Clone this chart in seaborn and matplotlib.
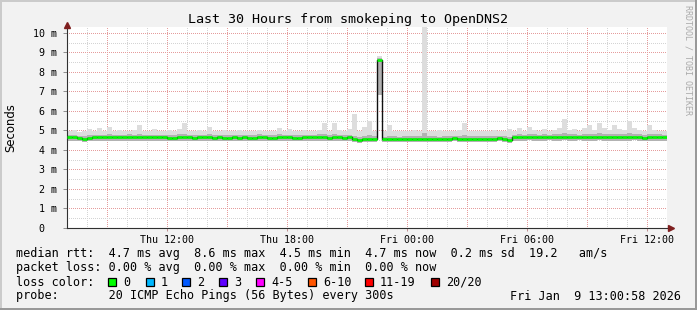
import numpy as np
import pandas as pd
import matplotlib
matplotlib.use("Agg")
import matplotlib.pyplot as plt
from matplotlib.patches import Rectangle
import seaborn as sns

# ---------------- data (15-minute samples, hours since Thu 07:00) ----------------
med = [4.66,4.65,4.63,4.55,4.62,4.66,4.65,4.64,4.66,4.67,
       4.66,4.65,4.67,4.66,4.64,4.66,4.65,4.64,4.66,4.67,
       4.63,4.62,4.64,4.66,4.65,4.63,4.64,4.66,4.65,4.63,
       4.64,4.63,4.62,4.65,4.63,4.64,4.62,4.63,4.65,4.64,
       4.63,4.62,4.64,4.66,4.64,4.62,4.63,4.65,4.64,4.66,
       4.65,4.64,4.63,4.64,4.65,4.63,4.64,4.55,4.53,4.54,
       4.54,4.55,8.60,4.56,4.55,4.57,4.56,4.55,4.57,4.58,
       4.57,4.56,4.58,4.57,4.55,4.57,4.58,4.60,4.57,4.56,
       4.58,4.57,4.56,4.58,4.55,4.57,4.59,4.58,4.52,4.66,
       4.67,4.66,4.68,4.67,4.66,4.67,4.68,4.67,4.66,4.68,
       4.67,4.66,4.68,4.67,4.66,4.67,4.68,4.66,4.67,4.65,
       4.66,4.67,4.66,4.68,4.65,4.63,4.66,4.67,4.66,4.65]

top = [4.95,5.00,4.92,4.98,5.05,4.95,5.10,4.97,5.20,4.96,
       5.00,4.95,4.98,5.02,5.30,4.97,4.95,5.05,4.98,4.96,
       5.00,4.97,5.05,5.40,4.98,4.95,5.00,4.97,5.20,4.96,
       4.98,5.02,4.95,4.97,5.00,4.96,4.95,4.98,5.00,4.97,
       4.95,4.98,5.10,4.96,5.05,4.97,4.95,5.00,4.96,4.98,
       5.00,5.40,4.97,5.40,5.00,4.96,5.05,5.85,4.95,5.20,
       5.50,4.97,8.80,4.95,5.30,4.96,4.95,4.98,4.97,5.00,
       4.95,10.6,4.97,4.95,5.00,4.96,4.98,4.95,5.00,5.40,
       4.97,4.96,4.98,4.95,4.97,5.00,4.98,4.96,5.05,4.97,
       5.10,4.98,5.20,5.00,4.97,5.05,4.98,5.00,5.10,5.60,
       5.00,5.05,4.98,5.10,5.30,5.00,5.40,5.10,5.00,5.30,
       5.05,5.00,5.50,5.10,5.00,4.98,5.30,5.00,4.97,4.95]

dark_hi = [4.76,4.78,4.73,4.70,4.75,4.79,4.77,4.78,4.82,4.76,
           4.78,4.75,4.80,4.77,4.81,4.76,4.78,4.79,4.77,4.75,
           4.78,4.76,4.80,4.83,4.77,4.75,4.78,4.77,4.80,4.76,
           4.77,4.79,4.75,4.78,4.76,4.77,4.75,4.78,4.80,4.76,
           4.75,4.77,4.81,4.76,4.78,4.75,4.77,4.79,4.76,4.78,
           4.80,4.83,4.77,4.82,4.78,4.76,4.78,4.72,4.68,4.71,
           4.75,4.70,8.70,4.68,4.73,4.70,4.68,4.71,4.69,4.72,
           4.70,4.88,4.71,4.69,4.68,4.70,4.72,4.71,4.70,4.77,
           4.71,4.70,4.72,4.69,4.71,4.73,4.72,4.70,4.68,4.78,
           4.80,4.78,4.82,4.80,4.78,4.81,4.79,4.80,4.82,4.86,
           4.80,4.82,4.79,4.83,4.84,4.81,4.85,4.82,4.80,4.84,
           4.82,4.80,4.86,4.83,4.81,4.78,4.84,4.82,4.80,4.78]

low = [4.47,4.46,4.45,4.42,4.45,4.47,4.46,4.45,4.47,4.48,
       4.47,4.46,4.48,4.47,4.45,4.47,4.46,4.45,4.47,4.48,
       4.45,4.44,4.46,4.47,4.46,4.45,4.46,4.47,4.46,4.45,
       4.46,4.45,4.44,4.46,4.45,4.46,4.44,4.45,4.47,4.46,
       4.45,4.44,4.46,4.47,4.46,4.44,4.45,4.47,4.46,4.47,
       4.47,4.46,4.45,4.46,4.47,4.45,4.46,4.40,4.38,4.39,
       4.39,4.40,6.80,4.41,4.40,4.42,4.41,4.40,4.42,4.43,
       4.42,4.41,4.43,4.42,4.40,4.42,4.43,4.44,4.42,4.41,
       4.43,4.42,4.41,4.43,4.40,4.42,4.44,4.43,4.38,4.47,
       4.48,4.47,4.49,4.48,4.47,4.48,4.49,4.48,4.47,4.49,
       4.48,4.47,4.49,4.48,4.47,4.48,4.49,4.47,4.48,4.46,
       4.47,4.48,4.47,4.49,4.46,4.44,4.47,4.48,4.47,4.46]

step_hours = 0.25
xtick_hours = [5, 11, 17, 23, 29]
xtick_labels = ["Thu 12:00", "Thu 18:00", "Fri 00:00", "Fri 06:00", "Fri 12:00"]
ytick_values = [0, 1, 2, 3, 4, 5, 6, 7, 8, 9, 10]
ytick_labels = ["0  ", "1 m", "2 m", "3 m", "4 m", "5 m", "6 m", "7 m", "8 m", "9 m", "10 m"]

title = "Last 30 Hours from smokeping to OpenDNS2"
legend_rows = [
    "median rtt:  4.7 ms avg  8.6 ms max  4.5 ms min  4.7 ms now  0.2 ms sd  19.2   am/s",
    "packet loss: 0.00 % avg  0.00 % max  0.00 % min  0.00 % now",
    "loss color:",
    "probe:       20 ICMP Echo Pings (56 Bytes) every 300s",
]
loss_labels = ["0", "1", "2", "3", "4-5", "6-10", "11-19", "20/20"]
loss_colors = ["#00FF00", "#00B8FF", "#0059FF", "#5E00FF", "#FF00FF", "#FF5500", "#FF0000", "#A00000"]
timestamp = "Fri Jan  9 13:00:58 2026"

# ---------------- figure ----------------
plt.rcParams["font.family"] = ["DejaVu Sans Mono"]
W, H = 697, 310
fig = plt.figure(figsize=(W / 100, H / 100), dpi=100, facecolor="#F2F2F2")

def fx(x):
    return x / W

def fy(y):
    return 1 - y / H

ax = fig.add_axes([fx(67), 82 / H, 600 / W, 201 / H])
ax.set_facecolor("white")

n = len(med)
edges = np.arange(n + 1) * step_hours
df = pd.DataFrame({
    "t": edges,
    "med": med + [med[-1]],
    "top": top + [top[-1]],
    "dark_hi": dark_hi + [dark_hi[-1]],
    "low": low + [low[-1]],
})

# dotted grid
px = 0.72
dot = (0, (1, 1.2))
for h in np.arange(0, 31, 1):
    major = (h % 3 == 2)
    ax.axvline(h, color="#E59C9C" if major else "#D4D4D4", lw=px, ls=dot,
               zorder=0.5, antialiased=False)
for v in np.arange(0.5, 10.31, 0.5):
    major = abs(v - round(v)) < 1e-6
    ax.axhline(v, color="#E59C9C" if major else "#D4D4D4", lw=px, ls=dot,
               zorder=0.5, antialiased=False)

# smoke
ax.fill_between(df["t"], df["low"], df["top"], step="post", color="#DDDDDD", lw=0, zorder=1)
ax.fill_between(df["t"], df["low"], df["dark_hi"], step="post", color="#B2B2B2", lw=0, zorder=1.1)

# median line (dark vertical transitions, green horizontal segments)
sns.lineplot(data=df, x="t", y="med", ax=ax, drawstyle="steps-post", color="#101010",
             lw=1.0, estimator=None, sort=False, zorder=2)
ax.hlines(med, edges[:-1], edges[1:], colors="#00FF00", lw=1.9, zorder=3)

ax.set_xlim(0, 30)
ax.set_ylim(0, 10.3)
ax.set_xlabel("")
ax.set_ylabel("")

ax.set_xticks(xtick_hours)
ax.set_xticklabels(xtick_labels, fontsize=7.2)
ax.set_yticks(ytick_values)
ax.set_yticklabels(ytick_labels, fontsize=7.2)
ax.tick_params(axis="x", length=2, width=0.72, color="#C08E8E", pad=3)
ax.tick_params(axis="y", length=3, width=0.72, color="#909090", pad=4)
for lab in ax.get_yticklabels():
    lab.set_horizontalalignment("right")

for s in ["top", "right"]:
    ax.spines[s].set_visible(False)
for s in ["left", "bottom"]:
    ax.spines[s].set_color("#303030")
    ax.spines[s].set_linewidth(0.8)

# arrows
ax.plot([0], [1.012], marker="^", ms=5, color="#7F1F1F", transform=ax.transAxes, clip_on=False, zorder=5)
ax.plot([1.006], [0], marker=">", ms=5, color="#7F1F1F", transform=ax.transAxes, clip_on=False, zorder=5)

# texts
fig.text(fx(348), fy(19), title, ha="center", va="center", fontsize=9.6, color="black")
fig.text(fx(11), fy(128), "Seconds", rotation=90, ha="center", va="center",
         fontsize=8.4, family="DejaVu Sans", color="black")
fig.text(fx(688), fy(60), "RRDTOOL / TOBI OETIKER", rotation=270, ha="center", va="center",
         fontsize=6, color="#AAAAAA")

row_y = [254, 268, 282, 296]
for txt, y in zip(legend_rows, row_y):
    fig.text(fx(16), fy(y), txt, ha="left", va="center", fontsize=8.5, color="black")
fig.text(fx(681), fy(row_y[3]), timestamp, ha="right", va="center", fontsize=8.5, color="black")

box_x = [108, 146, 182, 219, 256, 308, 365, 431]
for bx, lab, col in zip(box_x, loss_labels, loss_colors):
    fig.add_artist(Rectangle((fx(bx), fy(row_y[2] + 4)), 8 / W, 8 / H, transform=fig.transFigure,
                             facecolor=col, edgecolor="black", lw=0.9))
    fig.text(fx(bx + 15), fy(row_y[2]), lab, ha="left", va="center", fontsize=8.5, color="black")

# frame shading
fig.add_artist(Rectangle((0, 1 - 2 / H), 1, 2 / H, transform=fig.transFigure, facecolor="#CBCBCB", lw=0))
fig.add_artist(Rectangle((0, 0), 2 / W, 1, transform=fig.transFigure, facecolor="#CBCBCB", lw=0))
fig.add_artist(Rectangle((0, 0), 1, 2 / H, transform=fig.transFigure, facecolor="#999999", lw=0))
fig.add_artist(Rectangle((1 - 2 / W, 0), 2 / W, 1, transform=fig.transFigure, facecolor="#999999", lw=0))

fig.savefig("out.png", dpi=100, facecolor=fig.get_facecolor())
